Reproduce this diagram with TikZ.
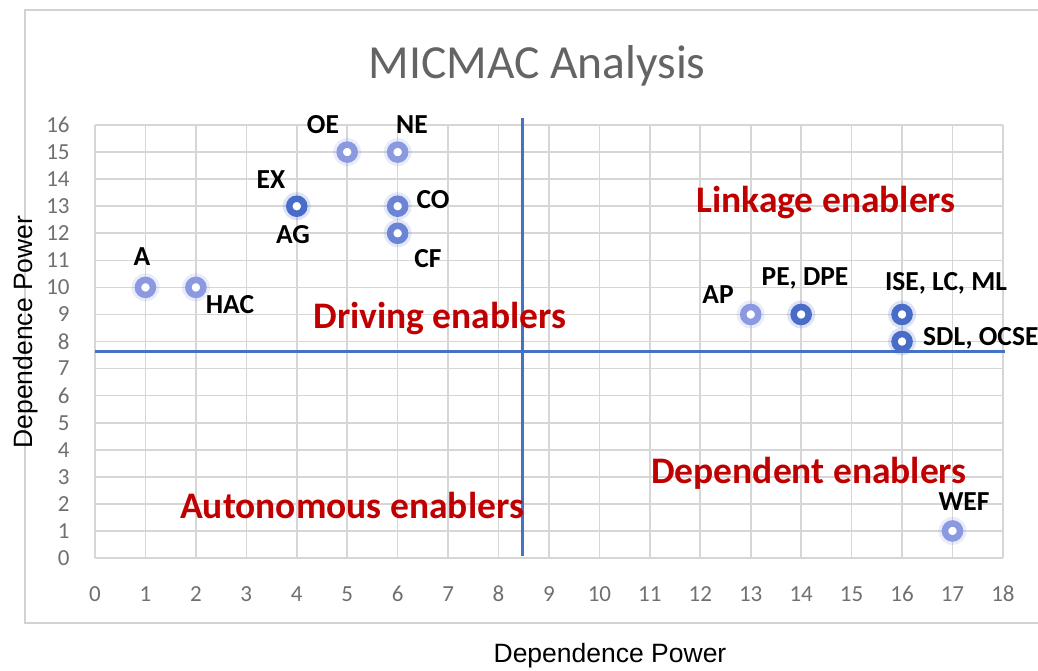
\documentclass[tikz,border=0pt]{standalone}
\usepackage{fontspec}
\setmainfont{Carlito}
\newfontfamily\arialf{Liberation Sans}
\definecolor{gridc}{RGB}{214,214,214}
\definecolor{framec}{RGB}{210,210,210}
\definecolor{tickc}{RGB}{112,112,112}
\definecolor{titlec}{RGB}{100,100,100}
\definecolor{quadc}{RGB}{68,114,196}
\definecolor{redc}{RGB}{192,0,0}
\definecolor{mklight}{RGB}{138,153,224}
\definecolor{mkmid}{RGB}{108,132,214}
\definecolor{mkdark}{RGB}{72,108,200}
\tikzset{
  gridline/.style={draw=gridc, line width=1.6pt},
  framebox/.style={draw=framec, line width=1.6pt},
  tick/.style={text=tickc, font=\fontsize{23}{26}\selectfont, inner sep=0pt},
  quad/.style={draw=quadc, line width=3pt},
  mk/.style={circle, draw=#1, line width=6.5pt, fill=white, minimum size=15pt, inner sep=0pt},
  halo/.style={circle, fill=#1, opacity=0.18, minimum size=28pt, inner sep=0pt},
  lbl/.style={font=\bfseries\fontsize{27.5}{30}\selectfont, text=black, anchor=base, inner sep=0pt},
  zone/.style={font=\bfseries\fontsize{37.5}{42}\selectfont, text=redc, anchor=base, inner sep=0pt},
  axtitle/.style={font=\arialf\fontsize{26.5}{30}\selectfont, text=black, anchor=base, inner sep=0pt},
  charttitle/.style={font=\fontsize{47.5}{52}\selectfont, text=titlec, anchor=base, inner sep=0pt}
}
\begin{document}
\begin{tikzpicture}[x=1pt,y=-1pt]
\useasboundingbox[fill=white] (0,0) rectangle (1038,670);
\draw[framebox] (25,10) rectangle (1060,623);
\node[charttitle] (title) at (537,78) {MICMAC Analysis};
\begin{scope}[shift={(95,558)},x=50.44pt,y=27.06pt]
  \foreach \i in {0,...,18} {\draw[gridline] (\i,0) -- (\i,16);}
  \foreach \j in {0,...,16} {\draw[gridline] (0,\j) -- (18,\j);}
  \foreach \i in {0,...,18} {\node[tick] (xt\i) at (\i,-1.33) {\i};}
  \foreach \j in {0,...,16} {\node[tick, anchor=east] (yt\j) at (-0.5,\j) {\j};}
  \coordinate (hl) at (0,7.62);
  \coordinate (hr) at (18.04,7.62);
  \coordinate (vt) at (8.47,16.26);
  \coordinate (vb) at (8.47,0.07);
  \draw[quad] (hl) -- (hr);
  \draw[quad] (vt) -- (vb);
  % markers
  \foreach \n/\px/\py/\c in {hOE/5/15/mklight, hNE/6/15/mklight, hAG/4/13/mkdark, hCO/6/13/mkmid, hCF/6/12/mkmid,
      hA/1/10/mklight, hHAC/2/10/mklight, hAP/13/9/mklight, hPE/14/9/mkdark, hISE/16/9/mkdark, hSDL/16/8/mkdark, hWEF/17/1/mklight}
    {\node[halo=\c] (\n) at (\px,\py) {};}
  \node[mk=mklight] (pOE) at (5,15) {};
  \node[mk=mklight] (pNE) at (6,15) {};
  \node[mk=mkdark] (pAG) at (4,13) {};
  \node[mk=mkmid] (pCO) at (6,13) {};
  \node[mk=mkmid] (pCF) at (6,12) {};
  \node[mk=mklight] (pA) at (1,10) {};
  \node[mk=mklight] (pHAC) at (2,10) {};
  \node[mk=mklight] (pAP) at (13,9) {};
  \node[mk=mkdark] (pPE) at (14,9) {};
  \node[mk=mkdark] (pSDL) at (16,8) {};
  \node[mk=mkdark] (pISE) at (16,9) {};
  \node[mk=mklight] (pWEF) at (17,1) {};
\end{scope}
% point labels
\node[lbl] (lOE) at (323,133) {OE};
\node[lbl] (lNE) at (412,133) {NE};
\node[lbl] (lEX) at (271,188) {EX};
\node[lbl] (lAG) at (293,243) {AG};
\node[lbl] (lCO) at (433,208) {CO};
\node[lbl] (lCF) at (428,267) {CF};
\node[lbl] (lA) at (142,265) {A};
\node[lbl] (lHAC) at (230,313) {HAC};
\node[lbl] (lAP) at (718,303) {AP};
\node[lbl] (lPE) at (805,285) {PE, DPE};
\node[lbl] (lISE) at (946,290) {ISE, LC, ML};
\node[lbl, anchor=base west] (lSDL) at (923,345) {SDL, OCSE};
\node[lbl] (lWEF) at (964,510) {WEF};
% zone labels
\node[zone] (zLink) at (826,212) {Linkage enablers};
\node[zone] (zDrive) at (440,328) {Driving enablers};
\node[zone] (zAuto) at (352,518) {Autonomous enablers};
\node[zone] (zDep) at (809,483) {Dependent enablers};
% axis titles
\node[axtitle] (xtitle) at (610,662) {Dependence Power};
\node[axtitle, rotate=90] (ytitle) at (32,332) {Dependence Power};
\end{tikzpicture}
\end{document}
